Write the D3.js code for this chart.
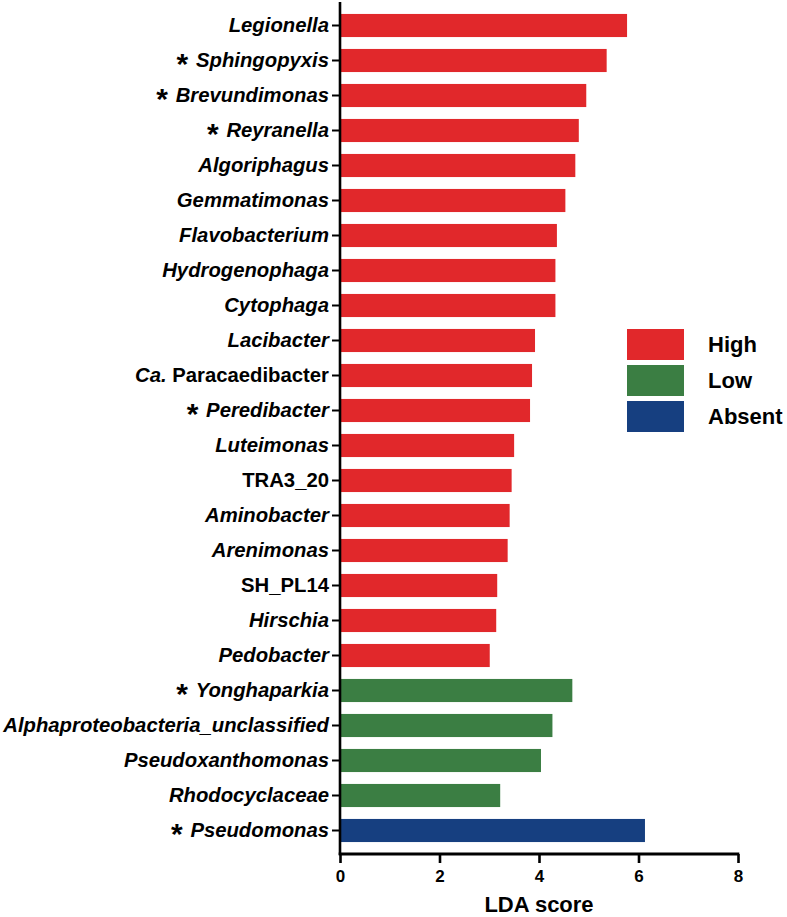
<!DOCTYPE html>
<html><head><meta charset="utf-8">
<script src="https://cdn.jsdelivr.net/npm/d3@7"></script>
<style>
html,body{margin:0;padding:0;background:#fff;}
svg{display:block;font-family:"Liberation Sans",Arial,Helvetica,sans-serif;}
</style></head>
<body>
<svg id="chart" width="787" height="917"></svg>
<script>
const categories = ["Legionella","Sphingopyxis","Brevundimonas","Reyranella","Algoriphagus","Gemmatimonas","Flavobacterium","Hydrogenophaga","Cytophaga","Lacibacter","Ca. Paracaedibacter","Peredibacter","Luteimonas","TRA3_20","Aminobacter","Arenimonas","SH_PL14","Hirschia","Pedobacter","Yonghaparkia","Alphaproteobacteria_unclassified","Pseudoxanthomonas","Rhodocyclaceae","Pseudomonas"];
const values = [5.77,5.36,4.95,4.80,4.73,4.53,4.36,4.33,4.33,3.92,3.86,3.82,3.50,3.45,3.41,3.37,3.16,3.14,3.01,4.67,4.27,4.04,3.22,6.13];
const groups = ["High","High","High","High","High","High","High","High","High","High","High","High","High","High","High","High","High","High","High","Low","Low","Low","Low","Absent"];
const starred = ["Sphingopyxis","Brevundimonas","Reyranella","Peredibacter","Yonghaparkia","Pseudomonas"];
const uprightNames = ["TRA3_20","SH_PL14"];
const legendLabels = ["High","Low","Absent"];
const xTicks = [0,2,4,6,8];
const xTitle = "LDA score";

const colors = {High:"#E1282B", Low:"#3B7E43", Absent:"#163F80"};

const svg = d3.select("#chart");
const x = d3.scaleLinear().domain([0,8]).range([340,738]);
const y = d3.scaleBand().domain(categories).range([8,848]).paddingInner(0.34).paddingOuter(0.17);

// bars
svg.append("g").selectAll("rect").data(categories).join("rect")
  .attr("x", x(0))
  .attr("y", d => y(d))
  .attr("width", (d,i) => x(values[i]) - x(0))
  .attr("height", y.bandwidth())
  .attr("fill", (d,i) => colors[groups[i]]);

// y axis
const yAxis = svg.append("g").attr("transform", `translate(${x(0)},0)`)
  .call(d3.axisLeft(y).tickSize(8).tickPadding(3).tickSizeOuter(0));
yAxis.select(".domain").attr("d", "M0,2V855").attr("stroke","#000").attr("stroke-width",2.6);
yAxis.selectAll(".tick line").attr("stroke","#000").attr("stroke-width",2);
yAxis.selectAll(".tick text").each(function(d){
  const t = d3.select(this);
  t.text(null).attr("dy", null).attr("y", 6.8)
   .attr("font-size","20.3px").attr("font-weight","bold").attr("fill","#000");
  if (starred.includes(d)) {
    t.append("tspan").attr("font-style","normal").attr("font-size","30px").attr("dy","6.5").text("*");
    t.append("tspan").attr("dy","-6.5").attr("font-size","28px").text(" ");
  }
  if (d.startsWith("Ca. ")) {
    t.append("tspan").attr("font-style","italic").text("Ca.");
    t.append("tspan").attr("font-style","normal").text(" " + d.slice(4));
  } else if (uprightNames.includes(d)) {
    t.append("tspan").attr("font-style","normal").text(d);
  } else {
    t.append("tspan").attr("font-style","italic").text(d);
  }
});

// x axis
const xAxis = svg.append("g").attr("transform", "translate(0,854)")
  .call(d3.axisBottom(x).tickValues(xTicks).tickSize(9).tickPadding(7).tickSizeOuter(0));
xAxis.select(".domain").attr("d", `M${x(0)-1.3},0H${x(8)+1.3}`).attr("stroke","#000").attr("stroke-width",2.8);
xAxis.selectAll(".tick line").attr("stroke","#000").attr("stroke-width",2.6);
xAxis.selectAll(".tick text").attr("font-size","17px").attr("font-weight","bold").attr("fill","#000");

svg.append("text").attr("x", (x(0)+x(8))/2).attr("y", 912).attr("text-anchor","middle")
  .attr("font-size","22px").attr("font-weight","bold").text(xTitle);

// legend
const lg = svg.append("g");
legendLabels.forEach((l,i) => {
  const yy = 329 + i*36;
  lg.append("rect").attr("x",627).attr("y",yy).attr("width",57).attr("height",31).attr("fill",colors[l]);
  lg.append("text").attr("x",708).attr("y",yy+15.5).attr("dy","0.36em")
    .attr("font-size","22px").attr("font-weight","bold").text(l);
});
</script>
</body></html>
